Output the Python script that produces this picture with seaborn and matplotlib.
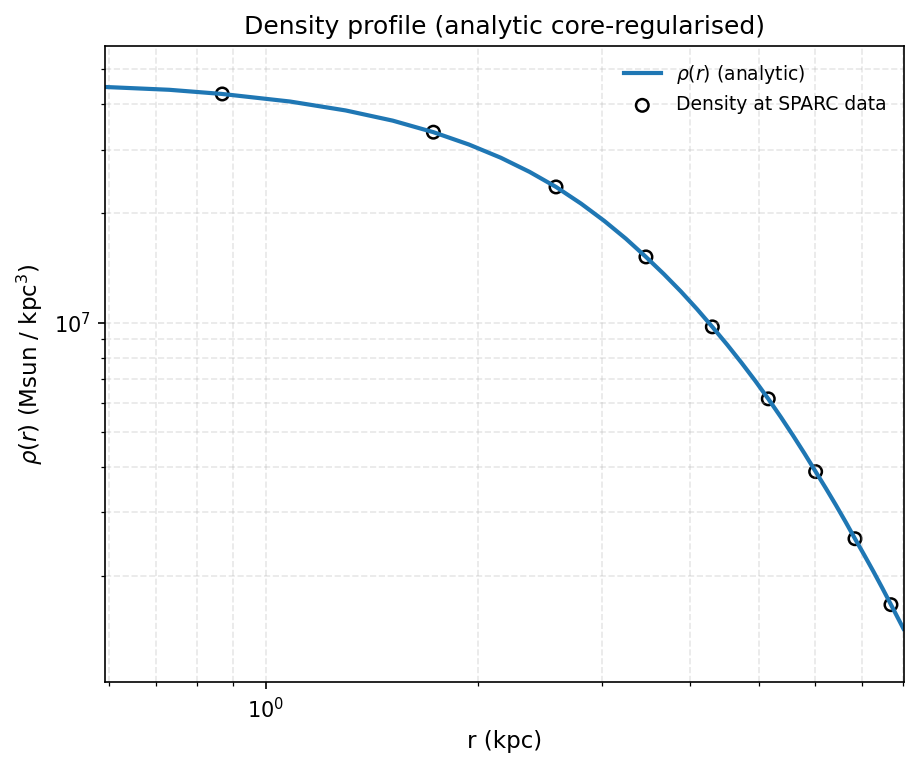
import matplotlib
matplotlib.use("Agg")
import matplotlib.pyplot as plt
import seaborn as sns
import pandas as pd

# analytic curve
curve_r = [0.592, 0.73, 0.868, 1.083, 1.2985, 1.514, 1.729, 1.942, 2.1545, 2.367,
           2.580, 2.80, 3.02, 3.24, 3.460, 3.669, 3.8785, 4.088, 4.297, 4.512,
           4.7275, 4.943, 5.158, 5.3735, 5.589, 5.8045, 6.020, 6.226, 6.4325, 6.639,
           6.845, 7.058, 7.2715, 7.485, 7.698, 8.02]
curve_rho = [4.464e7, 4.385e7, 4.27e7, 4.07e7, 3.846e7, 3.605e7, 3.35e7, 3.097e7,
             2.848e7, 2.603e7, 2.366e7, 2.128e7, 1.907e7, 1.704e7, 1.517e7, 1.360e7,
             1.218e7, 1.089e7, 9.73e6, 8.681e6, 7.742e6, 6.907e6, 6.16e6, 5.488e6,
             4.888e6, 4.355e6, 3.88e6, 3.488e6, 3.136e6, 2.819e6, 2.534e6, 2.282e6,
             2.056e6, 1.851e6, 1.667e6, 1.43e6]

# SPARC radii and density
data_r = [0.868, 1.729, 2.580, 3.460, 4.297, 5.158, 6.020, 6.845, 7.698]
data_rho = [4.27e7, 3.35e7, 2.366e7, 1.517e7, 9.73e6, 6.16e6, 3.88e6, 2.534e6, 1.667e6]

curve = pd.DataFrame({"r": curve_r, "rho": curve_rho})
pts = pd.DataFrame({"r": data_r, "rho": data_rho})

fig, ax = plt.subplots(figsize=(917 / 150, 767 / 150), dpi=150)
sns.lineplot(data=curve, x="r", y="rho", ax=ax, color="#1f77b4", lw=2,
             label=r"$\rho(r)$ (analytic)")
sns.scatterplot(data=pts, x="r", y="rho", ax=ax, s=36, facecolor="none",
                edgecolor="black", linewidth=1.2, label="Density at SPARC data")
ax.set_xscale("log")
ax.set_yscale("log")
ax.set_xlim(0.592, 8.02)
ax.set_ylim(1.02e6, 5.79e7)
ax.grid(True, which="both", ls="--", alpha=0.3)
ax.set_xlabel("r (kpc)", fontsize=11)
ax.set_ylabel(r"$\rho(r)$ (Msun / kpc$^3$)", fontsize=11)
ax.set_title("Density profile (analytic core-regularised)", fontsize=12)
ax.legend(frameon=False, loc="upper right", fontsize=9)
fig.subplots_adjust(left=0.1145, right=0.9853, top=0.94, bottom=0.1108)
fig.savefig("out.png", dpi=150)
